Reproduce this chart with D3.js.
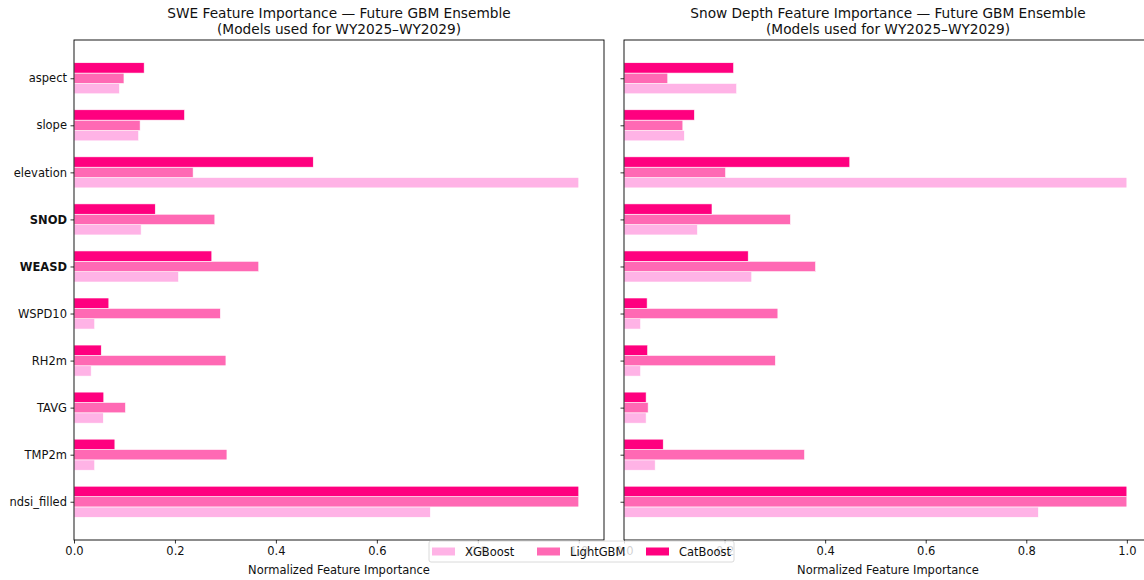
<!DOCTYPE html>
<html>
<head>
<meta charset="utf-8">
<script src="https://cdn.jsdelivr.net/npm/d3@7"></script>
<style>
  html, body { margin: 0; padding: 0; background: #fff; overflow: hidden; }
  svg { display: block; font-family: "DejaVu Sans", sans-serif; }
</style>
</head>
<body>
<svg id="chart" width="1144" height="580"></svg>
<script>
// Features, top to bottom
const features = ["aspect", "slope", "elevation", "SNOD", "WEASD", "WSPD10", "RH2m", "TAVG", "TMP2m", "ndsi_filled"];
const boldFeatures = ["SNOD", "WEASD"];
const models = ["XGBoost", "LightGBM", "CatBoost"];
const modelColors = ["#ffb3e6", "#ff69b4", "#ff007f"];

// Normalized importances, SWE target
const sweXGBoost  = [0.090, 0.128, 1.000, 0.133, 0.207, 0.041, 0.034, 0.058, 0.041, 0.706];
const sweLightGBM = [0.099, 0.131, 0.236, 0.279, 0.366, 0.290, 0.301, 0.102, 0.303, 1.000];
const sweCatBoost = [0.139, 0.219, 0.474, 0.161, 0.273, 0.069, 0.054, 0.059, 0.081, 1.000];

// Normalized importances, snow depth target
const snodXGBoost  = [0.224, 0.120, 1.000, 0.146, 0.254, 0.033, 0.033, 0.044, 0.062, 0.824];
const snodLightGBM = [0.087, 0.117, 0.202, 0.331, 0.381, 0.306, 0.301, 0.048, 0.359, 1.000];
const snodCatBoost = [0.218, 0.140, 0.449, 0.175, 0.247, 0.046, 0.047, 0.044, 0.078, 1.000];

const xTicks = [0.0, 0.2, 0.4, 0.6, 0.8, 1.0];
const xLabel = "Normalized Feature Importance";
const subtitle = "(Models used for WY2025\u2013WY2029)";

const panels = [
  { title: "SWE Feature Importance \u2014 Future GBM Ensemble",
    series: [sweXGBoost, sweLightGBM, sweCatBoost], left: 74, right: 604, showLabels: true },
  { title: "Snow Depth Feature Importance \u2014 Future GBM Ensemble",
    series: [snodXGBoost, snodLightGBM, snodCatBoost], left: 624, right: 1152, showLabels: false }
];

const svg = d3.select("#chart");
const plotTop = 40, plotBottom = 540;
const tickFont = 11.5, titleFont = 13.7;
const barH = 0.22;                      // bar thickness in category units
const span = (features.length - 1) + 3 * barH;
const pad = 0.05 * span;
const y = d3.scaleLinear()
  .domain([-1.5 * barH - pad, features.length - 1 + 1.5 * barH + pad])
  .range([plotTop, plotBottom]);
const barPx = y(barH) - y(0);
// vertical offset of each model's bar from the category centre
const offsets = [barH, 0, -barH];

panels.forEach(p => {
  const x = d3.scaleLinear().domain([0, 1.05]).range([p.left, p.right]);
  const g = svg.append("g");

  // bars
  p.series.forEach((vals, m) => {
    g.append("g").selectAll("rect")
      .data(vals)
      .join("rect")
      .attr("x", x(0))
      .attr("y", (d, i) => y(i + offsets[m]) - barPx / 2)
      .attr("width", d => x(d) - x(0))
      .attr("height", barPx)
      .attr("fill", modelColors[m])
      .attr("stroke", "#fff")
      .attr("stroke-width", 0.6);
  });

  // frame
  g.append("rect")
    .attr("x", p.left).attr("y", plotTop)
    .attr("width", p.right - p.left).attr("height", plotBottom - plotTop)
    .attr("fill", "none").attr("stroke", "#000").attr("stroke-width", 0.9);

  // x axis
  const xa = g.append("g")
    .attr("transform", `translate(0,${plotBottom})`)
    .call(d3.axisBottom(x).tickValues(xTicks).tickFormat(d3.format(".1f"))
      .tickSize(3.5).tickSizeOuter(0).tickPadding(3));
  xa.select(".domain").remove();
  xa.selectAll("line").attr("stroke", "#000").attr("stroke-width", 0.8);
  xa.selectAll("text").attr("font-size", tickFont).attr("fill", "#111")
    .attr("font-family", "DejaVu Sans, sans-serif");

  // y axis
  const ya = g.append("g")
    .attr("transform", `translate(${p.left},0)`)
    .call(d3.axisLeft(y).tickValues(d3.range(features.length))
      .tickFormat(i => p.showLabels ? features[i] : "")
      .tickSize(3.5).tickSizeOuter(0).tickPadding(3.5));
  ya.select(".domain").remove();
  ya.selectAll("line").attr("stroke", "#000").attr("stroke-width", 0.8);
  ya.selectAll("text").attr("font-size", tickFont).attr("fill", "#111")
    .attr("font-family", "DejaVu Sans, sans-serif")
    .attr("font-weight", i => boldFeatures.includes(features[i]) ? "bold" : "normal");

  // titles
  const cx = (p.left + p.right) / 2;
  g.append("text").attr("x", cx).attr("y", 18).attr("text-anchor", "middle")
    .attr("font-size", titleFont).attr("fill", "#111").text(p.title);
  g.append("text").attr("x", cx).attr("y", 34).attr("text-anchor", "middle")
    .attr("font-size", titleFont).attr("fill", "#111").text(subtitle);
  g.append("text").attr("x", cx).attr("y", 573.5).attr("text-anchor", "middle")
    .attr("font-size", tickFont).attr("fill", "#111").text(xLabel);
});

// legend, drawn over the axes
const lg = svg.append("g").attr("transform", "translate(429,541)");
lg.append("rect").attr("width", 305).attr("height", 21).attr("rx", 2)
  .attr("fill", "#fff").attr("fill-opacity", 0.8)
  .attr("stroke", "#d0d0d0").attr("stroke-width", 0.8);
const legendX = [3, 108, 217];
models.forEach((m, k) => {
  const e = lg.append("g").attr("transform", `translate(${legendX[k]},0)`);
  e.append("rect").attr("x", 0).attr("y", 6.5).attr("width", 23).attr("height", 8)
    .attr("fill", modelColors[k]);
  e.append("text").attr("x", 33).attr("y", 14.8).attr("font-size", tickFont)
    .attr("fill", "#111").text(m);
});
</script>
</body>
</html>
